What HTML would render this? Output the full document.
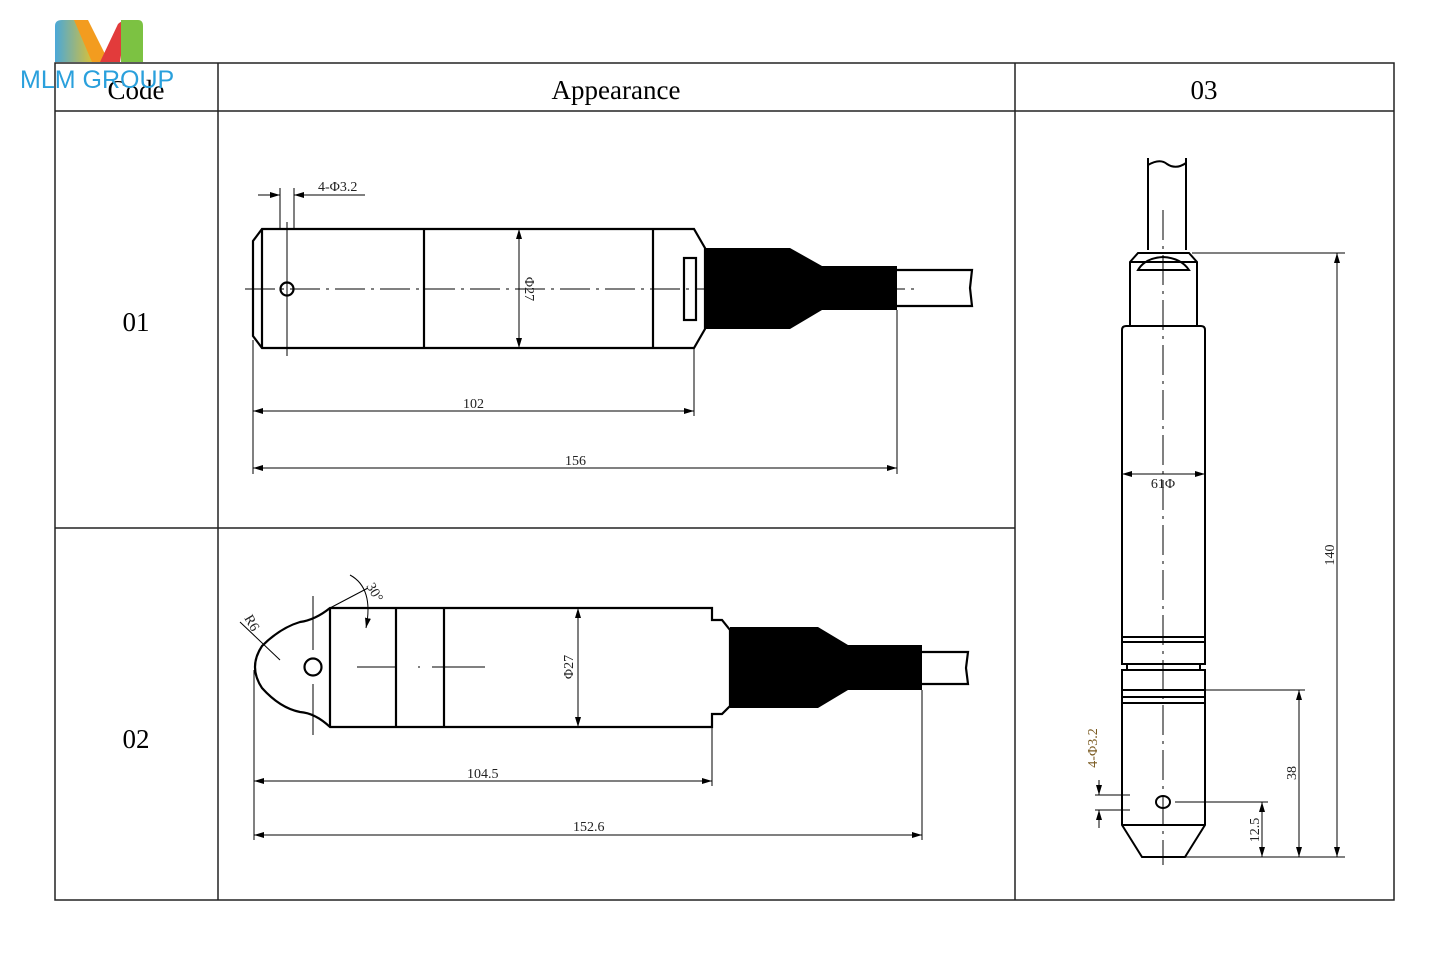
<!DOCTYPE html>
<html><head><meta charset="utf-8"><style>
html,body{margin:0;padding:0;background:#fff;}
svg{display:block;}
</style></head><body>
<svg width="1440" height="957" viewBox="0 0 1440 957" xmlns="http://www.w3.org/2000/svg">
<defs>
<marker id="a" viewBox="0 0 10 6" refX="10" refY="3" markerWidth="10" markerHeight="6" orient="auto-start-reverse" markerUnits="userSpaceOnUse"><path d="M0,0 L10,3 L0,6 z" fill="#000"/></marker>
<linearGradient id="g1" x1="0" x2="1"><stop offset="0" stop-color="#4aa8d8"/><stop offset="1" stop-color="#f5c518"/></linearGradient>
</defs>
<rect width="1440" height="957" fill="#fff"/>
<!-- table -->
<g stroke="#222" stroke-width="1.5" fill="none">
<rect x="55" y="63" width="1339" height="837"/>
<line x1="218" y1="63" x2="218" y2="900"/>
<line x1="1015" y1="63" x2="1015" y2="900"/>
<line x1="55" y1="111" x2="1394" y2="111"/>
<line x1="55" y1="528" x2="1015" y2="528"/>
</g>
<g font-family="Liberation Serif, serif" font-size="27" fill="#000" text-anchor="middle">
<text x="136" y="99">Code</text>
<text x="616" y="99">Appearance</text>
<text x="1204" y="99">03</text>
<text x="136" y="331">01</text>
<text x="136" y="748">02</text>
</g>
<!-- logo -->
<path d="M55,62 L55,26 Q55,20 62,20 L78,20 L100,62 Z" fill="url(#g1)"/>
<path d="M74,20 L88,20 L106,56 L100,62 L92,62 Z" fill="#f39c1f"/>
<path d="M100,62 L118,24 Q122,20 126,22 L120,62 Z" fill="#e23b3b"/>
<path d="M121,20 L138,20 Q143,20 143,26 L143,62 L121,62 Z" fill="#7cc242"/>
<text x="20" y="88" font-family="Liberation Sans, sans-serif" font-size="25" fill="#2aa0dc">MLM GROUP</text>

<!-- drawing 01 -->
<g stroke="#000" stroke-width="2.2" fill="none">
<path d="M262,229 L694,229 L705,248 L705,329 L694,348 L262,348 L253,336 L253,241 Z"/>
<line x1="262" y1="229" x2="262" y2="348"/>
<line x1="424" y1="229" x2="424" y2="348"/>
<line x1="653" y1="229" x2="653" y2="348"/>
<circle cx="287" cy="289" r="6.5"/>
<rect x="684" y="258" width="12" height="62"/>
<path d="M897,270 L972,270 L970,288 L972,306 L897,306"/>
</g>
<path d="M705,248 L790,248 L822,266 L897,266 L897,310 L822,310 L790,329 L705,329 Z" fill="#000"/>
<g stroke="#000" stroke-width="1" fill="none">
<line x1="245" y1="289" x2="915" y2="289" stroke-dasharray="30,6,3,6"/>
<line x1="287" y1="222" x2="287" y2="356"/>
<line x1="280" y1="188" x2="280" y2="229"/><line x1="294" y1="188" x2="294" y2="229"/>
<line x1="258" y1="195" x2="280" y2="195" marker-end="url(#a)"/>
<line x1="316" y1="195" x2="294" y2="195" marker-end="url(#a)"/>
<line x1="294" y1="195" x2="365" y2="195"/>
<line x1="519" y1="229" x2="519" y2="348" marker-start="url(#a)" marker-end="url(#a)"/>
<line x1="253" y1="340" x2="253" y2="474"/>
<line x1="694" y1="348" x2="694" y2="416"/>
<line x1="897" y1="310" x2="897" y2="474"/>
<line x1="253" y1="411" x2="694" y2="411" marker-start="url(#a)" marker-end="url(#a)"/>
<line x1="253" y1="468" x2="897" y2="468" marker-start="url(#a)" marker-end="url(#a)"/>
</g>
<g font-family="Liberation Serif, serif" font-size="14" fill="#222">
<text x="318" y="191">4-Φ3.2</text>
<text x="463" y="408">102</text>
<text x="565" y="465">156</text>
<text transform="translate(525,289) rotate(90)" text-anchor="middle">Φ27</text>
</g>

<!-- drawing 02 -->
<g stroke="#000" stroke-width="2.2" fill="none">
<path d="M330,608 L712,608 L712,620 L722,620 L730,630 L730,706 L722,714 L712,714 L712,727 L330,727 Q315,713 300,712 Q280,708 262,688 Q248,667 262,646 Q280,628 300,622 Q315,620 330,608 Z"/>
<line x1="330" y1="608" x2="330" y2="727"/>
<line x1="396" y1="608" x2="396" y2="727"/>
<line x1="444" y1="608" x2="444" y2="727"/>
<circle cx="313" cy="667" r="8.5"/>
<path d="M922,652 L968,652 L966,668 L968,684 L922,684"/>
</g>
<path d="M730,627 L818,627 L848,645 L922,645 L922,690 L848,690 L818,708 L730,708 Z" fill="#000"/>
<g stroke="#000" stroke-width="1" fill="none">
<line x1="313" y1="596" x2="313" y2="650"/><line x1="313" y1="684" x2="313" y2="735"/>
<line x1="357" y1="667" x2="396" y2="667"/><line x1="418" y1="667" x2="420" y2="667"/><line x1="432" y1="667" x2="485" y2="667"/>
<line x1="578" y1="608" x2="578" y2="727" marker-start="url(#a)" marker-end="url(#a)"/>
<line x1="240" y1="622" x2="280" y2="660"/>
<line x1="330" y1="608" x2="368" y2="588"/>
<path d="M350,575 Q374,588 366,628" marker-end="url(#a)"/>
<line x1="254" y1="670" x2="254" y2="840"/>
<line x1="712" y1="727" x2="712" y2="786"/>
<line x1="922" y1="690" x2="922" y2="840"/>
<line x1="254" y1="781" x2="712" y2="781" marker-start="url(#a)" marker-end="url(#a)"/>
<line x1="254" y1="835" x2="922" y2="835" marker-start="url(#a)" marker-end="url(#a)"/>
</g>
<g font-family="Liberation Serif, serif" font-size="14" fill="#222">
<text x="467" y="778">104.5</text>
<text x="573" y="831">152.6</text>
<text transform="translate(573,667) rotate(-90)" text-anchor="middle">Φ27</text>
<text transform="translate(244,618) rotate(60)">R6</text>
<text transform="translate(366,586) rotate(60)">30°</text>
</g>

<!-- drawing 03 -->
<g stroke="#000" stroke-width="2" fill="none">
<path d="M1148,158 L1148,250 M1186,158 L1186,250"/>
<path d="M1148,165 Q1160,158 1167,164 Q1176,170 1186,163"/>
<path d="M1130,262 L1138,253 L1189,253 L1197,262 L1197,326 L1130,326 Z"/>
<line x1="1130" y1="262" x2="1197" y2="262"/>
<path d="M1138,270 Q1145,258 1163,257 Q1181,258 1189,270 Z"/>
<path d="M1126,326 L1201,326 Q1205,326 1205,330 L1205,664 L1122,664 L1122,330 Q1122,326 1126,326 Z"/>
<line x1="1122" y1="637" x2="1205" y2="637"/><line x1="1122" y1="642" x2="1205" y2="642"/>
<path d="M1127,664 L1127,670 M1200,664 L1200,670"/>
<path d="M1122,670 L1205,670 L1205,825 L1185,857 L1142,857 L1122,825 Z"/>
<line x1="1122" y1="690" x2="1205" y2="690"/><line x1="1122" y1="697" x2="1205" y2="697"/><line x1="1122" y1="703" x2="1205" y2="703"/>
<line x1="1122" y1="825" x2="1205" y2="825"/>
<ellipse cx="1163" cy="802" rx="7" ry="6"/>
</g>
<g stroke="#000" stroke-width="1" fill="none">
<line x1="1163" y1="210" x2="1163" y2="865" stroke-dasharray="30,6,3,6"/>
<line x1="1122" y1="474" x2="1205" y2="474" marker-start="url(#a)" marker-end="url(#a)"/>
<line x1="1192" y1="253" x2="1345" y2="253"/>
<line x1="1205" y1="690" x2="1305" y2="690"/>
<line x1="1175" y1="802" x2="1268" y2="802"/>
<line x1="1180" y1="857" x2="1345" y2="857"/>
<line x1="1337" y1="253" x2="1337" y2="857" marker-start="url(#a)" marker-end="url(#a)"/>
<line x1="1299" y1="690" x2="1299" y2="857" marker-start="url(#a)" marker-end="url(#a)"/>
<line x1="1262" y1="802" x2="1262" y2="857" marker-start="url(#a)" marker-end="url(#a)"/>
<line x1="1095" y1="795" x2="1130" y2="795"/><line x1="1095" y1="810" x2="1130" y2="810"/>
<line x1="1099" y1="780" x2="1099" y2="795" marker-end="url(#a)"/>
<line x1="1099" y1="828" x2="1099" y2="810" marker-end="url(#a)"/>
</g>
<g font-family="Liberation Serif, serif" font-size="14" fill="#222">
<text x="1163" y="488" text-anchor="middle">61Φ</text>
<text transform="translate(1334,555) rotate(-90)" text-anchor="middle">140</text>
<text transform="translate(1296,773) rotate(-90)" text-anchor="middle">38</text>
<text transform="translate(1259,830) rotate(-90)" text-anchor="middle">12.5</text>
<text transform="translate(1097,748) rotate(-90)" text-anchor="middle" fill="#7a5a20">4-Φ3.2</text>
</g>
</svg>
</body></html>
